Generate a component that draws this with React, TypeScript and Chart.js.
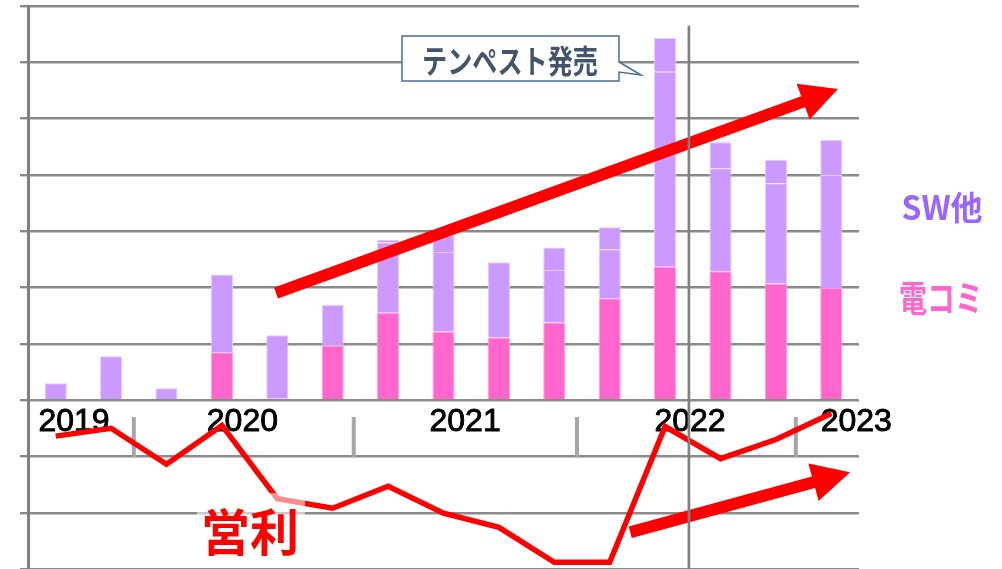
import React, { useEffect, useRef } from "react";
import { Chart, registerables } from "chart.js";

Chart.register(...registerables);

// ---- data ----
const quarters = [
  "2019Q3", "2019Q4",
  "2020Q1", "2020Q2", "2020Q3", "2020Q4",
  "2021Q1", "2021Q2", "2021Q3", "2021Q4",
  "2022Q1", "2022Q2", "2022Q3", "2022Q4",
  "2023Q1",
];
const denComi = [null, null, 0.02, 0.85, 0.03, 0.97, 1.55, 1.22, 1.11, 1.38, 1.81, 2.37, 2.29, 2.07, 1.99];
const swMain = [0.3, 0.78, 0.19, 1.38, 1.12, 0.72, 1.25, 1.41, 1.34, 0.93, 0.87, 3.46, 1.83, 1.78, 2.01];
const swOther = [null, null, null, null, null, null, 0.05, 0.3, null, 0.4, 0.39, 0.6, 0.46, 0.42, 0.62];
const eiri = [-0.64, -0.5, -1.14, -0.45, -1.75, -1.92, -1.53, -2.01, -2.26, -2.88, -2.88, -0.47, -1.04, -0.7, -0.24];

const yearLabels = ["2019", "2020", "2021", "2022", "2023"];
const yearLabelPos = [0.33, 3.37, 7.39, 11.45, 14.45]; // category units
const yearTickPos = [1.41, 5.38, 9.41, 13.36];
const dividerPos = 11.43;

const Y_MIN = -3;
const Y_MAX = 7;

function drawArrow(
  ctx: CanvasRenderingContext2D,
  x1: number, y1: number, x2: number, y2: number,
  bodyW: number, headLen: number, headHalf: number, color: string
) {
  const dx = x2 - x1, dy = y2 - y1;
  const L = Math.hypot(dx, dy);
  const ux = dx / L, uy = dy / L;
  const nx = -uy, ny = ux;
  const bx = x2 - ux * headLen, by = y2 - uy * headLen;
  ctx.save();
  ctx.fillStyle = color;
  ctx.beginPath();
  ctx.moveTo(x1 + nx * bodyW / 2, y1 + ny * bodyW / 2);
  ctx.lineTo(bx + nx * bodyW / 2, by + ny * bodyW / 2);
  ctx.lineTo(bx + nx * headHalf, by + ny * headHalf);
  ctx.lineTo(x2, y2);
  ctx.lineTo(bx - nx * headHalf, by - ny * headHalf);
  ctx.lineTo(bx - nx * bodyW / 2, by - ny * bodyW / 2);
  ctx.lineTo(x1 - nx * bodyW / 2, y1 - ny * bodyW / 2);
  ctx.closePath();
  ctx.fill();
  ctx.restore();
}

const decoBelow = {
  id: "decoBelow",
  beforeDatasetsDraw(chart: any) {
    const ctx: CanvasRenderingContext2D = chart.ctx;
    const xs = chart.scales.x;
    const ys = chart.scales.y;
    ctx.save();
    // year group ticks
    ctx.strokeStyle = "#a6a6a6";
    ctx.lineWidth = 4;
    for (const p of yearTickPos) {
      const x = xs.getPixelForValue(p);
      ctx.beginPath();
      ctx.moveTo(x, ys.getPixelForValue(-0.3));
      ctx.lineTo(x, ys.getPixelForValue(-1.01));
      ctx.stroke();
    }
    // year labels
    ctx.fillStyle = "#000";
    ctx.strokeStyle = "#000";
    ctx.lineWidth = 0.9;
    ctx.font = '32px "Liberation Sans", Arial, sans-serif';
    ctx.textAlign = "center";
    ctx.textBaseline = "middle";
    yearLabels.forEach((t, i) => {
      const x = xs.getPixelForValue(yearLabelPos[i]);
      const y = ys.getPixelForValue(-0.38) + 1;
      ctx.fillText(t, x, y);
      ctx.strokeText(t, x, y);
    });
    ctx.restore();
  },
};

const decoAbove = {
  id: "decoAbove",
  afterDatasetsDraw(chart: any) {
    const ctx: CanvasRenderingContext2D = chart.ctx;
    const xs = chart.scales.x;
    const ys = chart.scales.y;
    const px = (v: number) => xs.getPixelForValue(v);
    const py = (v: number) => ys.getPixelForValue(v);
    ctx.save();

    // 営利 text box (semi transparent)
    ctx.fillStyle = "rgba(255,255,255,0.55)";
    ctx.fillRect(197, 493, 108, 66);
    ctx.fillStyle = "#ff0000";
    ctx.font = 'bold 50px "Noto Sans CJK JP", sans-serif';
    ctx.textAlign = "center";
    ctx.textBaseline = "middle";
    ctx.fillText("営利", 250, 532, 98);

    // callout
    ctx.beginPath();
    ctx.moveTo(402, 36);
    ctx.lineTo(619, 36);
    ctx.lineTo(619, 62);
    ctx.lineTo(641, 75);
    ctx.lineTo(619, 72);
    ctx.lineTo(619, 81);
    ctx.lineTo(402, 81);
    ctx.closePath();
    ctx.fillStyle = "#ffffff";
    ctx.fill();
    ctx.strokeStyle = "#4a6d96";
    ctx.lineWidth = 1.5;
    ctx.stroke();
    ctx.fillStyle = "#44546a";
    ctx.font = 'bold 32px "Noto Sans CJK JP", sans-serif';
    ctx.fillText("テンペスト発売", 510, 61, 176);

    // arrows
    drawArrow(ctx, px(3.977), py(1.902), px(14.12), py(5.524), 11.5, 37, 19, "#ff0000");
    drawArrow(ctx, px(10.37), py(-2.346), px(14.34), py(-1.281), 12, 38, 19.5, "#ff0000");

    // divider line
    ctx.strokeStyle = "#808080";
    ctx.lineWidth = 2.7;
    const dx = px(dividerPos);
    ctx.beginPath();
    ctx.moveTo(dx, py(6.65));
    ctx.lineTo(dx, chart.chartArea.bottom + 2);
    ctx.stroke();

    // series labels
    ctx.textAlign = "center";
    ctx.fillStyle = "#9966ff";
    ctx.font = 'bold 33px "Noto Sans CJK JP", sans-serif';
    ctx.fillText("SW他", 942, 207, 81);
    ctx.fillStyle = "#ff66cc";
    ctx.font = 'bold 36px "Noto Sans CJK JP", sans-serif';
    ctx.fillText("電コミ", 941, 298, 84);

    ctx.restore();
  },
};

export default function App() {
  const ref = useRef<HTMLCanvasElement | null>(null);

  useEffect(() => {
    document.body.style.margin = "0";
    const canvas = ref.current;
    if (!canvas) return;
    const chart = new Chart(canvas, {
      data: {
        labels: quarters,
        datasets: [
          {
            type: "line",
            label: "営利",
            data: eiri,
            borderColor: "#ff0000",
            borderWidth: 5.5,
            pointRadius: 0,
            tension: 0,
            stack: "line",
            order: 0,
          } as any,
          {
            type: "bar",
            label: "電コミ",
            data: denComi,
            backgroundColor: "#ff66cc",
            borderColor: "#ff9ede",
            borderWidth: 1,
            stack: "bars",
            order: 1,
          },
          {
            type: "bar",
            label: "SW",
            data: swMain,
            backgroundColor: "#cc99ff",
            borderColor: "#e4ccff",
            borderWidth: 1,
            stack: "bars",
            order: 1,
          },
          {
            type: "bar",
            label: "他",
            data: swOther,
            backgroundColor: "#cc99ff",
            borderColor: "#e4ccff",
            borderWidth: 1,
            stack: "bars",
            order: 1,
          },
        ],
      },
      options: {
        responsive: false,
        animation: false,
        devicePixelRatio: 1,
        layout: { padding: { left: 20, right: 143, top: 6, bottom: 0 } },
        datasets: {
          bar: { barPercentage: 0.4, categoryPercentage: 1 },
        },
        plugins: {
          legend: { display: false },
          tooltip: { enabled: false },
          title: { display: false },
        },
        scales: {
          x: {
            type: "category",
            display: false,
            stacked: true,
            offset: true,
          },
          y: {
            type: "linear",
            min: Y_MIN,
            max: Y_MAX,
            stacked: true,
            ticks: { display: false, stepSize: 1 },
            grid: {
              color: "#8a8a8a",
              lineWidth: 2.4,
              tickLength: 8,
              drawTicks: true,
            },
            border: { display: true, color: "#808080", width: 3 },
          },
        },
      },
      plugins: [decoBelow, decoAbove],
    } as any);
    return () => chart.destroy();
  }, []);

  return (
    <div style={{ position: "fixed", left: 0, top: 0, width: 1002, height: 569, background: "#fff" }}>
      <canvas ref={ref} width={1002} height={569} style={{ display: "block" }} />
    </div>
  );
}
